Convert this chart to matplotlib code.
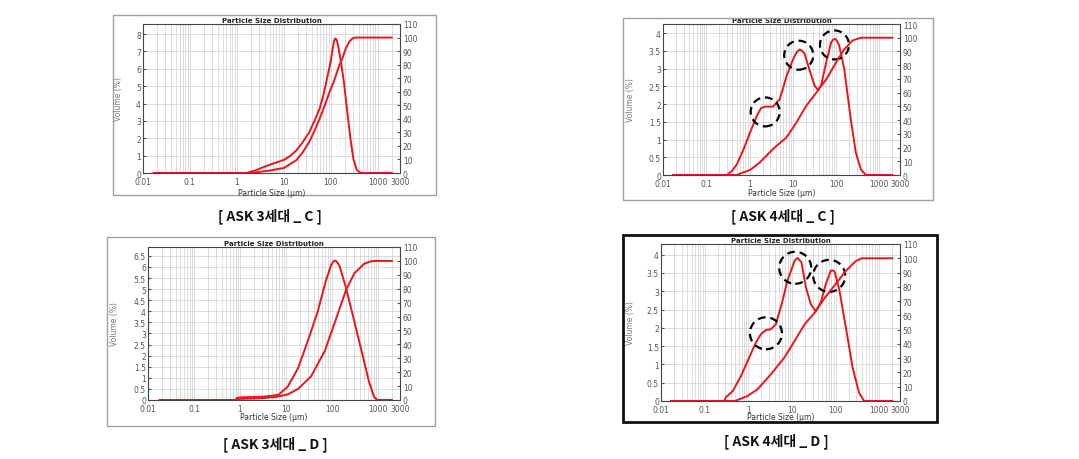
import matplotlib
matplotlib.use("Agg")
import matplotlib.pyplot as plt
from matplotlib.patches import Rectangle, Circle
from matplotlib.ticker import LogLocator, NullFormatter, FixedLocator
from matplotlib.transforms import ScaledTranslation

plt.rcParams['font.family'] = ['DejaVu Sans']

W, H = 1079, 460

# ----------------------------------
# Data
# ----------------------------------
x_ticks = [0.01, 0.1, 1, 10, 100, 1000, 3000]
x_tick_labels = ["0.01", "0.1", "1", "10", "100", "1000", "3000"]
cum_ticks = list(range(0, 111, 10))

# ASK 3세대 _ C
c3_freq_size = [0.017, 1.6, 2.5, 3.8, 6, 10, 14, 18.5, 25, 35, 45, 58, 70, 80, 90, 100,
                105, 110, 115, 120, 125, 130, 136, 143, 150, 163, 190, 222, 260, 305, 356,
                417, 490, 2000]
c3_freq = [0, 0, 0.15, 0.35, 0.55, 0.75, 1.0, 1.3, 1.75, 2.35, 3.0, 3.7, 4.5, 5.2, 5.85, 6.4,
           6.8, 7.15, 7.45, 7.66, 7.75, 7.72, 7.6, 7.35, 7.05, 6.5, 5.3, 3.7, 2.1, 0.8, 0.2,
           0.03, 0, 0]
c3_cum_size = [0.017, 2, 3, 5, 10, 18.5, 25, 35, 45, 58, 75, 95, 115, 135, 155, 175, 210,
               250, 290, 330, 2000]
c3_cum = [0, 0, 0.8, 1.8, 3.7, 9.4, 15, 23, 31, 40, 50, 60, 67, 74, 80, 84, 92,
          97, 99.3, 100, 100]

# ASK 4세대 _ C
c4_freq_size = [0.017, 0.30, 0.39, 0.51, 0.73, 1.03, 1.47, 1.85, 2.3, 3.5, 5.0, 7.2, 10.2,
                12.5, 14.5, 16.5, 18.8, 24.6, 32, 38, 45, 59, 77, 86, 95, 105, 118, 154,
                218, 286, 374, 488, 2000]
c4_freq = [0, 0, 0.11, 0.3, 0.73, 1.2, 1.67, 1.89, 1.93, 1.93, 2.14, 2.8, 3.27,
           3.48, 3.54, 3.5, 3.42, 2.94, 2.52, 2.4, 2.52, 3.18, 3.74, 3.82, 3.84, 3.78,
           3.65, 3.0, 1.58, 0.63, 0.16, 0, 0]
c4_cum_size = [0.017, 0.5, 1.03, 1.7, 3.5, 7.2, 12, 20, 35, 60, 100, 150, 240, 370, 2000]
c4_cum = [0, 0, 3.7, 9, 19, 27.5, 38, 50, 60, 70, 82, 91, 98, 100, 100]

# ASK 3세대 _ D
d3_freq_size = [0.018, 0.80, 0.86, 1.1, 3.2, 6.8, 10.9, 18.3, 29.6, 49, 74, 95, 105, 113,
                122, 130, 145, 200, 304, 457, 635, 814, 960, 2000]
d3_freq = [0, 0, 0.1, 0.12, 0.15, 0.23, 0.6, 1.44, 2.65, 4.0, 5.4, 6.06, 6.22, 6.29,
           6.27, 6.2, 6.06, 5.08, 3.56, 2.05, 0.83, 0.15, 0, 0]
d3_cum_size = [0.018, 0.8, 1.0, 3, 6, 10.9, 18.3, 35, 69, 113, 150, 201, 304, 500, 700, 850, 2000]
d3_cum = [0, 0, 0.8, 1.3, 2.2, 4, 8, 17, 35, 55, 67, 79, 91, 98, 99.7, 100, 100]

# ASK 4세대 _ D
d4_freq_size = [0.017, 0.28, 0.31, 0.44, 0.68, 1.05, 1.50, 1.95, 2.54, 3.3, 4.3, 6.1, 7.9,
                11.6, 13.5, 16.5, 21, 27, 35, 46, 60, 78, 87, 96, 121, 173, 246, 345, 452, 2000]
d4_freq = [0, 0, 0.11, 0.27, 0.68, 1.19, 1.6, 1.83, 1.94, 1.96, 2.1, 2.74, 3.29,
           3.84, 3.91, 3.79, 3.1, 2.65, 2.45, 2.7, 3.2, 3.56, 3.57, 3.52, 3.06, 2.0, 0.91,
           0.23, 0, 0]
d4_cum_size = [0.017, 0.5, 0.96, 1.63, 3.3, 6.7, 11.5, 19.5, 33.5, 57, 100, 170, 290, 400, 2000]
d4_cum = [0, 0, 3.5, 8.2, 18.7, 30.4, 42, 53.7, 62, 72.4, 81.8, 91, 98, 100, 100]

# dashed circles marking the peaks (size, volume)
c4_marks = [(2.3, 1.78), (13.7, 3.38), (91.6, 3.67)]
d4_marks = [(2.54, 1.85), (11.9, 3.64), (71.6, 3.42)]

captions = ["[ ASK 3세대 _ C ]", "[ ASK 4세대 _ C ]", "[ ASK 3세대 _ D ]", "[ ASK 4세대 _ D ]"]

# ----------------------------------
# Layout helpers (pixel boxes)
# ----------------------------------
fig = plt.figure(figsize=(W / 100, H / 100), dpi=100)


def px_rect(l, t, r, b):
    return [l / W, 1 - b / H, (r - l) / W, (b - t) / H]


RED = "#e8161d"
GRAY = "#555555"


def panel(box, frame, frame_style, ytop, yticks, ylab_x, xlab_y,
          fs, fv, cs, cv, marks=None, mark_r=0.15):
    l, t, r, b = frame
    fig.patches.append(Rectangle((l / W, 1 - b / H), (r - l) / W, (b - t) / H,
                                 transform=fig.transFigure, fill=False, **frame_style))
    ax = fig.add_axes(px_rect(*box))
    ax.set_xscale("log")
    ax.set_xlim(0.01, 3000)
    ax.set_ylim(0, ytop)
    ax.xaxis.set_major_locator(FixedLocator(x_ticks))
    ax.set_xticklabels(x_tick_labels)
    ax.xaxis.set_minor_locator(LogLocator(base=10, subs=range(2, 10), numticks=20))
    ax.xaxis.set_minor_formatter(NullFormatter())
    ax.set_yticks(yticks)
    ax.set_yticklabels([f"{v:g}" for v in yticks])
    ax.grid(True, which="both", axis="x", color="#cfcfcf", lw=0.5)
    ax.grid(True, which="major", axis="y", color="#cfcfcf", lw=0.5)
    ax.tick_params(axis="x", which="both", length=0, labelsize=5.5, colors=GRAY, pad=3)
    ax.tick_params(axis="y", length=2, direction="in", labelsize=5.5, colors=GRAY, pad=1.5)
    for s in ax.spines.values():
        s.set_color("#444444")
        s.set_linewidth(0.8)
    ax.set_title("Particle Size Distribution", fontsize=5, fontweight="bold", pad=1.5,
                 color="#222222")
    ax.plot(fs, fv, color=RED, lw=1.4)

    ax2 = ax.twinx()
    ax2.set_ylim(0, 110)
    ax2.set_yticks(cum_ticks)
    ax2.tick_params(axis="y", length=2, direction="in", labelsize=5.5, colors=GRAY, pad=2)
    for s in ax2.spines.values():
        s.set_visible(False)
    ax2.plot(cs, cv, color=RED, lw=1.4)

    cx = (box[0] + box[2]) / 2 / W
    fig.text(ylab_x / W, 1 - (box[1] + box[3]) / 2 / H, "Volume (%)", rotation=90,
             ha="center", va="center", fontsize=5.5, color="#777777")
    fig.text(cx, 1 - xlab_y / H, "Particle Size (µm)", ha="center", va="center",
             fontsize=5.5, color="#333333")

    if marks:
        for mx, my in marks:
            c = Circle((0, 0), mark_r, fill=False, ec="black", lw=1.6, ls=(0, (3.5, 2.2)),
                       transform=fig.dpi_scale_trans + ScaledTranslation(mx, my, ax.transData),
                       clip_on=False, zorder=5)
            ax.add_artist(c)
    return ax


light = dict(ec="#a0a0a0", lw=1.0)
heavy = dict(ec="#111111", lw=2.0)

panel((143, 25, 400, 174), (113, 16, 436, 196), light, 8.58, list(range(0, 9)), 119, 193,
      c3_freq_size, c3_freq, c3_cum_size, c3_cum)
panel((663, 25, 900, 176), (623, 19, 933, 201), light, 4.26, [0, 0.5, 1, 1.5, 2, 2.5, 3, 3.5, 4],
      630, 194, c4_freq_size, c4_freq, c4_cum_size, c4_cum, marks=c4_marks, mark_r=0.145)
panel((148, 248, 400, 401), (107, 238, 435, 427), light, 6.9,
      [0, 0.5, 1, 1.5, 2, 2.5, 3, 3.5, 4, 4.5, 5, 5.5, 6, 6.5], 115, 418,
      d3_freq_size, d3_freq, d3_cum_size, d3_cum)
panel((661, 245, 900, 402), (623, 236, 937, 423), heavy, 4.29, [0, 0.5, 1, 1.5, 2, 2.5, 3, 3.5, 4],
      630, 418, d4_freq_size, d4_freq, d4_cum_size, d4_cum, marks=d4_marks, mark_r=0.16)

cap_pos = [(270, 216), (783, 216), (275, 444), (776, 441)]
for (x, y), txt in zip(cap_pos, captions):
    fig.text(x / W, 1 - y / H, txt, ha="center", va="center", fontsize=10,
             fontweight="bold", family=["Noto Sans CJK KR", "DejaVu Sans"], color="#111111")

fig.savefig("out.png", dpi=100)
